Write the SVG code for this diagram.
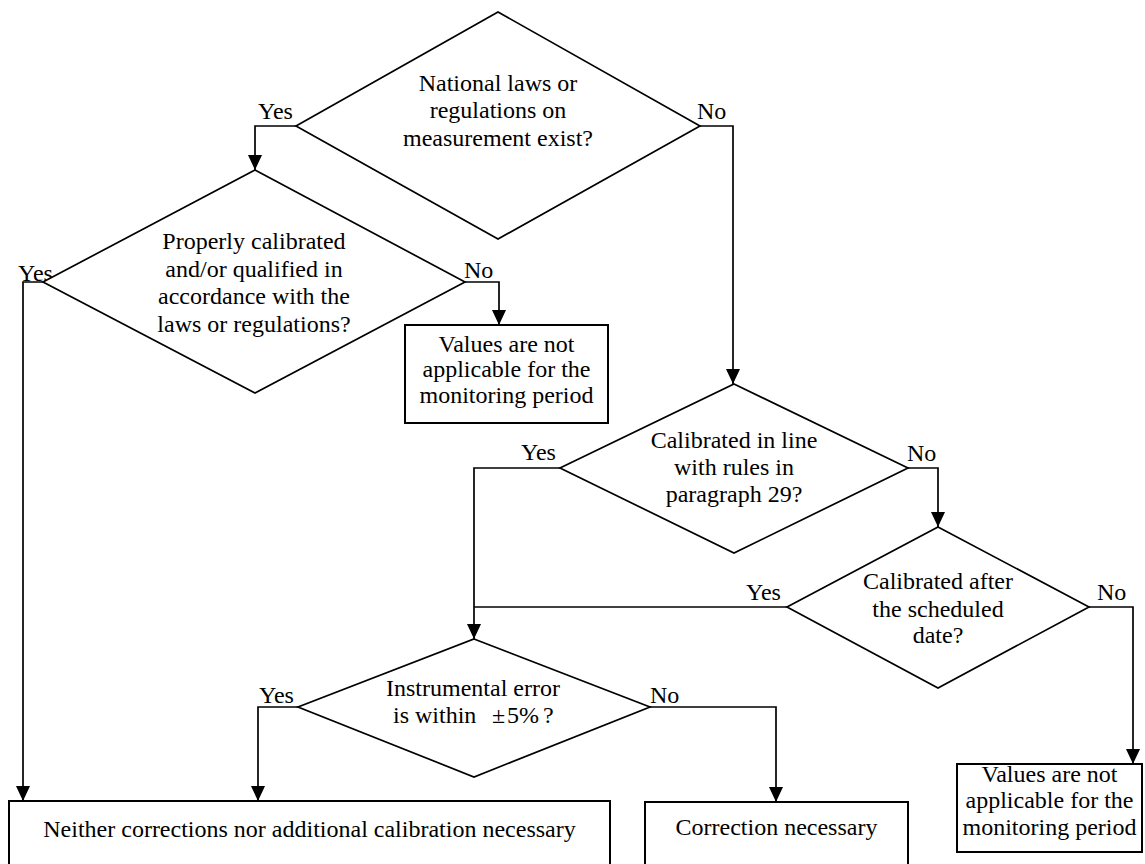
<svg xmlns="http://www.w3.org/2000/svg" width="1145" height="864" viewBox="0 0 1145 864">
<defs>
<marker id="arr" markerUnits="userSpaceOnUse" markerWidth="15" markerHeight="14" refX="15" refY="7" orient="auto">
<path d="M0,0 L15,7 L0,14 z" fill="#000"/>
</marker>
<style>
.shape{fill:#fff;stroke:#000;stroke-width:1.7}
.box{fill:#fff;stroke:#000;stroke-width:2}
text{font-family:'Liberation Serif','Times New Roman',Times,serif;font-size:24px;fill:#000}
.t{text-anchor:middle}
.c{fill:none;stroke:#000;stroke-width:1.7}
</style>
</defs>
<rect width="1145" height="864" fill="#fff"/>

<g id="connectors">
<path class="c" d="M296,126 H255 V170" marker-end="url(#arr)"/>
<path class="c" d="M700,126 H733 V384" marker-end="url(#arr)"/>
<path class="c" d="M43,282 H23 V801" marker-end="url(#arr)"/>
<path class="c" d="M465,282 H499 V325" marker-end="url(#arr)"/>
<path class="c" d="M560,468 H474 V639" marker-end="url(#arr)"/>
<path class="c" d="M908,468 H938 V527" marker-end="url(#arr)"/>
<path class="c" d="M787,607 H474"/>
<path class="c" d="M1089,607 H1133 V764" marker-end="url(#arr)"/>
<path class="c" d="M298,707 H258 V801" marker-end="url(#arr)"/>
<path class="c" d="M650,707 H776 V802" marker-end="url(#arr)"/>
</g>

<g id="labels">
<text x="258" y="119">Yes</text>
<text x="697" y="119">No</text>
<text x="18" y="281">Yes</text>
<text x="464" y="278">No</text>
<text x="521" y="460">Yes</text>
<text x="907" y="461">No</text>
<text x="746" y="600">Yes</text>
<text x="1097" y="600">No</text>
<text x="259" y="703">Yes</text>
<text x="650" y="703">No</text>
</g>

<g id="d1">
<polygon class="shape" points="498,12 700,126 498,239 296,126"/>
<text class="t" x="498" y="91">National laws or</text>
<text class="t" x="498" y="118">regulations on</text>
<text class="t" x="498" y="146">measurement exist?</text>
</g>

<g id="d2">
<polygon class="shape" points="255,170 465,282 255,393 43,282"/>
<text class="t" x="254" y="249">Properly calibrated</text>
<text class="t" x="254" y="277">and/or qualified in</text>
<text class="t" x="254" y="304">accordance with the</text>
<text class="t" x="254" y="332">laws or regulations?</text>
</g>

<g id="box1">
<rect class="box" x="405" y="325" width="203" height="98"/>
<text class="t" x="506.5" y="352">Values are not</text>
<text class="t" x="506.5" y="377">applicable for the</text>
<text class="t" x="506.5" y="403">monitoring period</text>
</g>

<g id="d3">
<polygon class="shape" points="734,384 908,468 734,553 560,468"/>
<text class="t" x="734" y="448">Calibrated in line</text>
<text class="t" x="734" y="475">with rules in</text>
<text class="t" x="734" y="502">paragraph 29?</text>
</g>

<g id="d4">
<polygon class="shape" points="938,527 1089,607 938,688 787,607"/>
<text class="t" x="938" y="589">Calibrated after</text>
<text class="t" x="938" y="617">the scheduled</text>
<text class="t" x="938" y="643">date?</text>
</g>

<g id="d5">
<polygon class="shape" points="474,639 650,707 474,777 298,707"/>
<text class="t" x="473" y="696">Instrumental error</text>
<text y="723"><tspan x="393">is within</tspan><tspan x="492">±</tspan><tspan x="507">5%</tspan><tspan x="543">?</tspan></text>
</g>

<g id="box2">
<rect class="box" x="9" y="801" width="601" height="70"/>
<text class="t" x="309.5" y="837">Neither corrections nor additional calibration necessary</text>
</g>

<g id="box3">
<rect class="box" x="645" y="802" width="263" height="70"/>
<text class="t" x="776.5" y="835">Correction necessary</text>
</g>

<g id="box4">
<rect class="box" x="957" y="764" width="185" height="88"/>
<text class="t" x="1049.5" y="782">Values are not</text>
<text class="t" x="1049.5" y="808">applicable for the</text>
<text class="t" x="1049.5" y="835">monitoring period</text>
</g>
</svg>
